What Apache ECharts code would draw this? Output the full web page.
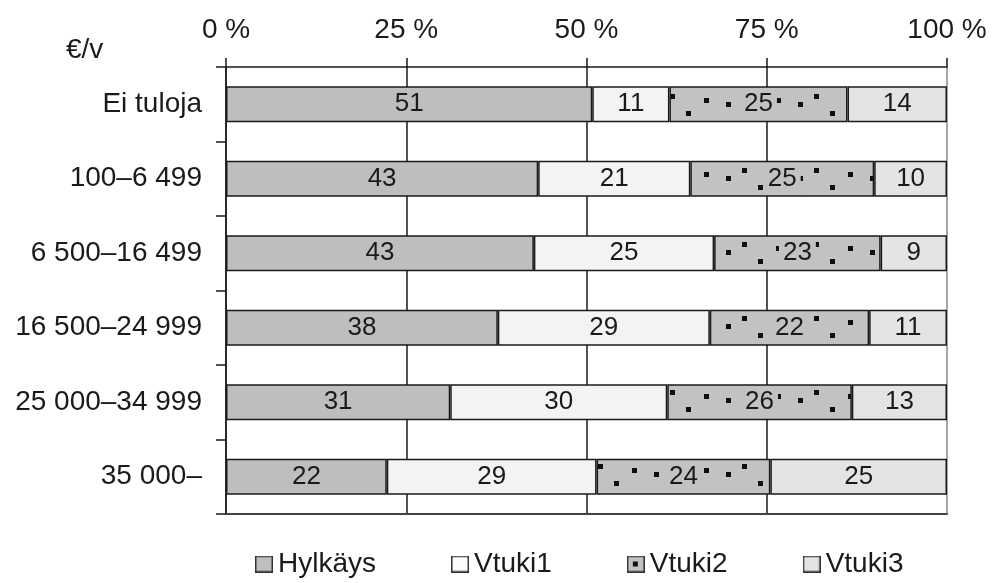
<!DOCTYPE html>
<html>
<head>
<meta charset="utf-8">
<script src="https://cdn.jsdelivr.net/npm/echarts@6/dist/echarts.min.js"></script>
<style>html,body{margin:0;padding:0;background:#fff}#c{width:992px;height:583px}</style>
</head>
<body>
<div id="c"></div>
<script>
const categories = ['Ei tuloja', '100–6 499', '6 500–16 499', '16 500–24 999', '25 000–34 999', '35 000–'];
const seriesNames = ['Hylkäys', 'Vtuki1', 'Vtuki2', 'Vtuki3'];
// segment widths (share of bar, %)
const hylkays = [50.8, 43.3, 42.7, 37.7, 31.1, 22.3];
const vtuki1  = [10.7, 21.1, 25.0, 29.4, 30.1, 29.1];
const vtuki2  = [24.7, 25.5, 23.1, 22.1, 25.6, 24.1];
const vtuki3  = [13.8, 10.1, 9.2, 10.8, 13.2, 24.5];
// printed labels
const hylkaysLabels = [51, 43, 43, 38, 31, 22];
const vtuki1Labels  = [11, 21, 25, 29, 30, 29];
const vtuki2Labels  = [25, 25, 23, 22, 26, 24];
const vtuki3Labels  = [14, 10, 9, 11, 13, 25];
const tickLabels = ['0 %', '25 %', '50 %', '75 %', '100 %'];

const FONT = '"Liberation Sans", Arial, sans-serif';

// dotted pattern for Vtuki2
function makePattern() {
  const c = document.createElement('canvas');
  c.width = 72; c.height = 37;
  const g = c.getContext('2d');
  g.fillStyle = '#c2c2c2'; g.fillRect(0, 0, 72, 37);
  g.fillStyle = '#0d0d0d';
  [[6, 28], [22, 20], [38, 0], [56, 24]].forEach(p => g.fillRect(p[0], p[1], 5, 5));
  return c;
}
function makeIcon(fill, dot) {
  const c = document.createElement('canvas');
  c.width = 18; c.height = 17;
  const g = c.getContext('2d');
  g.fillStyle = fill; g.fillRect(0, 0, 18, 17);
  g.strokeStyle = '#333'; g.lineWidth = 1.5; g.strokeRect(0.75, 0.75, 16.5, 15.5);
  if (dot) { g.fillStyle = '#111'; g.fillRect(6, 6, 5, 5); }
  return 'image://' + c.toDataURL();
}

const colors = ['#bebebe', '#f3f3f3', null, '#e4e4e4'];
const values = [hylkays, vtuki1, vtuki2, vtuki3];
const labels = [hylkaysLabels, vtuki1Labels, vtuki2Labels, vtuki3Labels];
const icons = [makeIcon('#bebebe'), makeIcon('#fbfbfb'), makeIcon('#c2c2c2', true), makeIcon('#e4e4e4')];

const series = seriesNames.map((name, i) => ({
  name: name,
  type: 'bar',
  stack: 'total',
  barWidth: 36,
  data: values[i],
  itemStyle: {
    color: i === 2 ? { image: makePattern(), repeat: 'repeat' } : colors[i],
    borderColor: '#1a1a1a',
    borderWidth: 1.5
  },
  label: Object.assign({
    show: true,
    position: 'inside',
    color: '#1a1a1a',
    fontSize: 26,
    fontFamily: FONT,
    formatter: p => String(labels[i][p.dataIndex])
  }, i === 2 ? { backgroundColor: '#c2c2c2', padding: [1, 4] } : {}),
  emphasis: { disabled: true }
}));

const chart = echarts.init(document.getElementById('c'));
chart.setOption({
  animation: false,
  backgroundColor: '#fff',
  grid: { left: 226, right: 45, top: 67, bottom: 69 },
  xAxis: [{
    type: 'value', position: 'top', min: 0, max: 100, interval: 25,
    axisLine: { show: true, lineStyle: { color: '#1a1a1a', width: 1.5 } },
    axisTick: { show: true, length: 9, lineStyle: { color: '#1a1a1a', width: 1.5 } },
    axisLabel: { fontSize: 28, color: '#1a1a1a', fontFamily: FONT, margin: 23,
      formatter: v => tickLabels[Math.round(v / 25)] },
    splitLine: { show: true, lineStyle: { color: ['#1a1a1a', '#1a1a1a', '#1a1a1a', '#1a1a1a', '#888'], width: 1.5 } }
  }, {
    type: 'value', position: 'bottom', min: 0, max: 100, interval: 25,
    axisLine: { show: true, lineStyle: { color: '#444', width: 2 } },
    axisTick: { show: false }, axisLabel: { show: false }, splitLine: { show: false }
  }],
  yAxis: {
    type: 'category', data: categories, inverse: true,
    axisLine: { show: true, lineStyle: { color: '#1a1a1a', width: 1.5 } },
    axisTick: { show: true, length: 10, lineStyle: { color: '#1a1a1a', width: 1.5 } },
    axisLabel: { fontSize: 28, color: '#1a1a1a', fontFamily: FONT, margin: 24 }
  },
  legend: {
    left: 255, top: 550, padding: 0,
    itemWidth: 18, itemHeight: 17, itemGap: 75,
    textStyle: { fontSize: 28, color: '#1a1a1a', fontFamily: FONT },
    data: seriesNames.map((n, i) => ({ name: n, icon: icons[i] }))
  },
  graphic: [{
    type: 'text', left: 66, top: 36,
    style: { text: '€/v', fontSize: 28, fill: '#1a1a1a', fontFamily: FONT }
  }],
  series: series
});
</script>
</body>
</html>
